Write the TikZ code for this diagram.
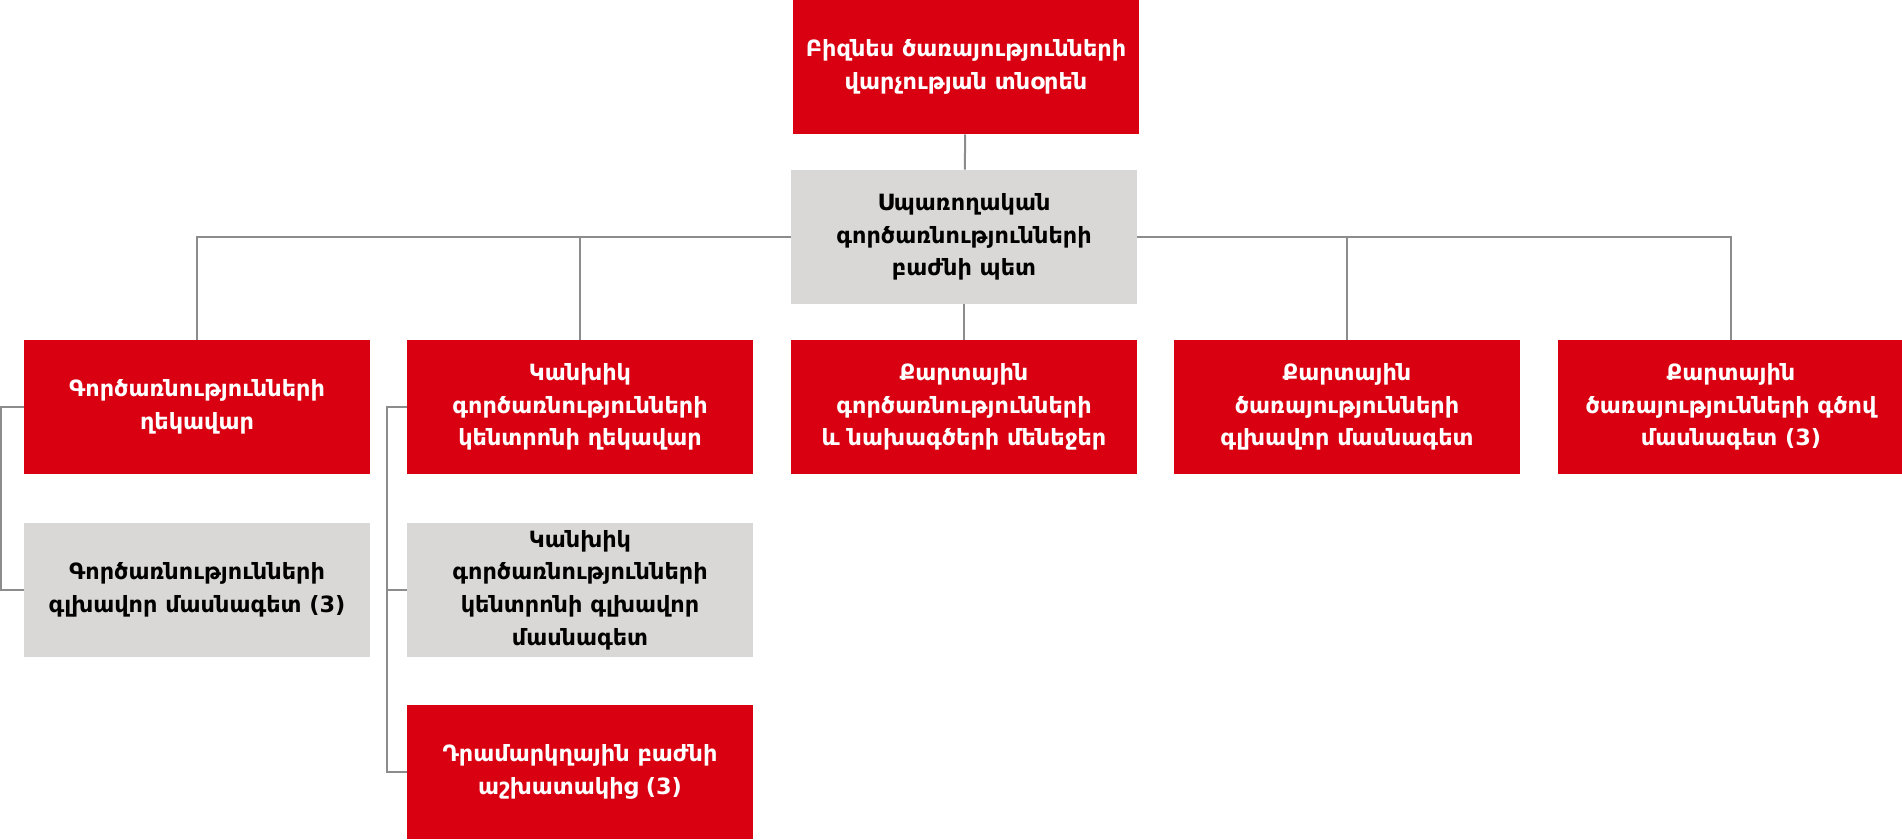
\documentclass[tikz,border=0pt]{standalone}
\usepackage{fontspec}
\setmainfont{DejaVu Sans}
\usetikzlibrary{backgrounds}
\definecolor{myred}{RGB}{217,0,18}
\definecolor{mybox}{RGB}{217,216,214}
\definecolor{myline}{RGB}{140,140,140}

\begin{document}
\begin{tikzpicture}[x=0.75pt,y=-0.75pt]
	  \tikzstyle{every node} = [rectangle, minimum width=259.5pt, minimum height=100.5pt, inner sep=0pt, align=center, font=\bfseries\fontsize{16.8}{24.5}\selectfont]
	  \tikzstyle{redbox} = [fill=myred, text=white]
	  \tikzstyle{graybox} = [fill=mybox, text=black]
	  \tikzstyle{link} = [line width=1.5pt, draw=myline]
	  \useasboundingbox (0,0) rectangle (1902,839);
	  \node (1)[redbox] at (966,67) {Բիզնես ծառայությունների\\վարչության տնօրեն};
	  \node (2)[graybox] at (964,237) {Սպառողական\\գործառնությունների\\բաժնի պետ};
	  \node (3)[redbox] at (197,407) {Գործառնությունների\\ղեկավար};
	  \node (4)[redbox] at (580,407) {Կանխիկ\\գործառնությունների\\կենտրոնի ղեկավար};
	  \node (5)[redbox] at (964,407) {Քարտային\\գործառնությունների\\և նախագծերի մենեջեր};
	  \node (6)[redbox] at (1347,407) {Քարտային\\ծառայությունների\\գլխավոր մասնագետ};
	  \node (7)[redbox] at (1731,407) {Քարտային\\ծառայությունների գծով\\մասնագետ (3)};
	  \node (8)[graybox] at (197,590) {Գործառնությունների\\գլխավոր մասնագետ (3)};
	  \node (9)[graybox] at (580,590) {Կանխիկ\\գործառնությունների\\կենտրոնի գլխավոր\\մասնագետ};
	  \node (10)[redbox] at (580,772) {Դրամարկղային բաժնի\\աշխատակից (3)};
	  \begin{scope}[on background layer]
	  \draw [link] (1) -- (2);
	  \draw [link] (2.west) -| (3.north);
	  \draw [link] (2.west) -| (4.north);
	  \draw [link] (2) -- (5);
	  \draw [link] (2.east) -| (6.north);
	  \draw [link] (2.east) -| (7.north);
	  \draw [link] (3.west) -- ++(-23,0) |- (8.west);
	  \draw [link] (4.west) -- ++(-20,0) |- (9.west);
	  \draw [link] (4.west) -- ++(-20,0) |- (10.west);
	  \end{scope}
\end{tikzpicture}
\end{document}
